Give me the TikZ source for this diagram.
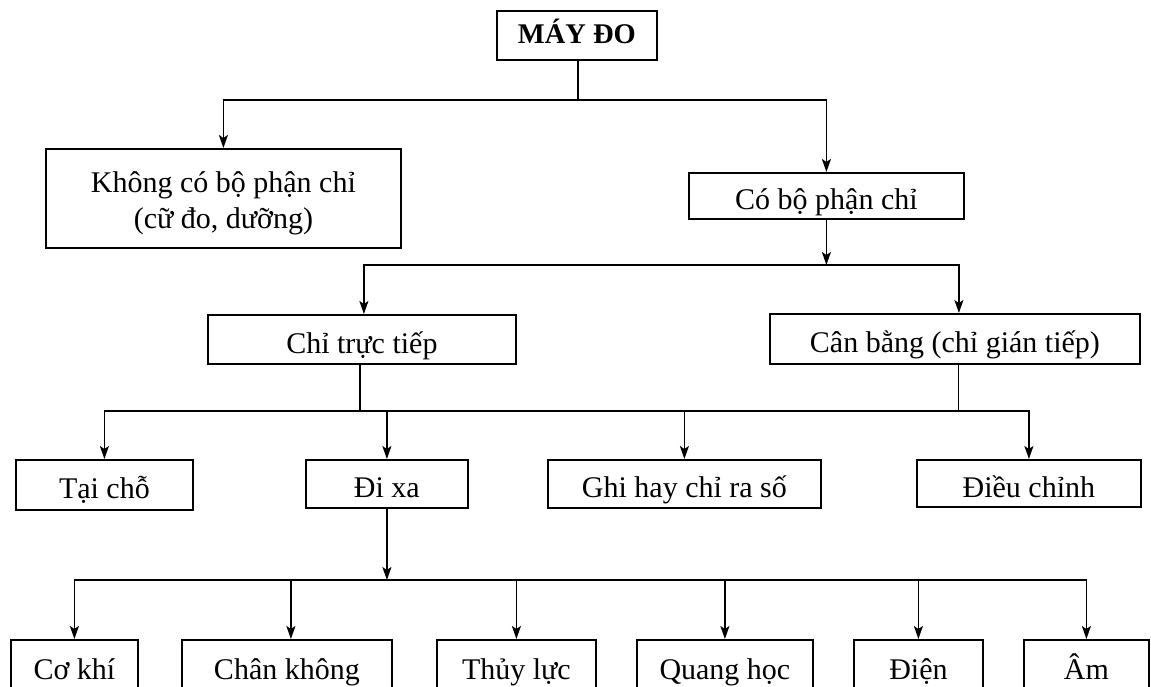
\documentclass[tikz,border=0pt]{standalone}
\usepackage{fontspec}
\setmainfont{Liberation Serif}
\usetikzlibrary{arrows.meta}
\begin{document}
\begin{tikzpicture}[x=1pt,y=-1pt,
  boxbase/.style={draw, line width=1.8pt, inner sep=0pt, anchor=north west, font=\fontsize{30}{36}\selectfont},
  box/.style={boxbase, text height=30pt, text depth=2pt},
  ln/.style={line width=1.8pt},
  bus/.style={line width=1.8pt, line cap=rect},
  thinln/.style={line width=0.9pt},
  arr/.style={line width=1.8pt, -{Stealth[length=13pt,width=9pt,inset=3pt]}},
]
\useasboundingbox (0,0) rectangle (1151,687);
\clip (0,0) rectangle (1151,687);
\fill[white] (0,0) rectangle (1151,687);

% boxes
\node[box, minimum width=160pt, minimum height=49pt, font=\bfseries\fontsize{28.5}{34}\selectfont, text height=20pt, text depth=3pt] (top) at (496,10) {MÁY ĐO};
\node[boxbase, minimum width=355pt, minimum height=99pt, align=center, text height=63pt, text depth=2pt] (khong) at (45,148) {Không có bộ phận chỉ\\(cữ đo, dưỡng)};
\node[box, minimum width=275pt, minimum height=46pt] (co) at (688,172) {Có bộ phận chỉ};
\node[box, minimum width=308pt, minimum height=49pt] (chi) at (207,314) {Chỉ trực tiếp};
\node[box, minimum width=370pt, minimum height=50pt] (can) at (769,313) {Cân bằng (chỉ gián tiếp)};
\node[box, minimum width=177pt, minimum height=50pt] (tai) at (15,459) {Tại chỗ};
\node[box, minimum width=162pt, minimum height=48pt] (dixa) at (305,459) {Đi xa};
\node[box, minimum width=273pt, minimum height=48pt] (ghi) at (547,459) {Ghi hay chỉ ra số};
\node[box, minimum width=224pt, minimum height=47pt] (dieu) at (916,459) {Điều chỉnh};
\node[box, minimum width=127pt, minimum height=51pt] (cokhi) at (10,639) {Cơ khí};
\node[box, minimum width=210pt, minimum height=51pt] (chan) at (181,639) {Chân không};
\node[box, minimum width=159pt, minimum height=51pt] (thuy) at (436,639) {Thủy lực};
\node[box, minimum width=176pt, minimum height=51pt] (quang) at (636,639) {Quang học};
\node[box, minimum width=129pt, minimum height=51pt] (dien) at (853,639) {Điện};
\node[box, minimum width=125pt, minimum height=51pt] (am) at (1023,639) {Âm};

% level 1
\coordinate (j1) at (578,100);
\draw[ln] (top.south -| j1) -- (j1);
\draw[arr] (j1) -| (khong.north);
\draw[arr] (j1) -| (co.north);

% level 2
\coordinate (j2) at (825,265);
\draw[arr] (co.south) -- (co.south |- j2);
\draw[arr] (j2) -| ([xshift=2pt]chi.north);
\draw[arr] (j2) -| ([xshift=4pt]can.north);

% level 3
\coordinate (j3) at (360,411);
\draw[ln] (chi.south -| j3) -- (j3);
\draw[thinln] ([xshift=4pt]can.south) -- ([xshift=4pt]can.south |- j3);
\draw[bus] (tai.north |- j3) -- (dieu.north |- j3);
\foreach \n in {tai,dixa,ghi,dieu} \draw[arr] (\n.north |- j3) -- (\n.north);

% level 4
\coordinate (j4) at (386,580);
\draw[arr] (dixa.south) -- (dixa.south |- j4);
\draw[bus] (cokhi.north |- j4) -- (am.north |- j4);
\foreach \n in {cokhi,thuy,quang,dien,am} \draw[arr] (\n.north |- j4) -- (\n.north);
\draw[arr] ([xshift=4pt]chan.north |- j4) -- ([xshift=4pt]chan.north);
\end{tikzpicture}
\end{document}
